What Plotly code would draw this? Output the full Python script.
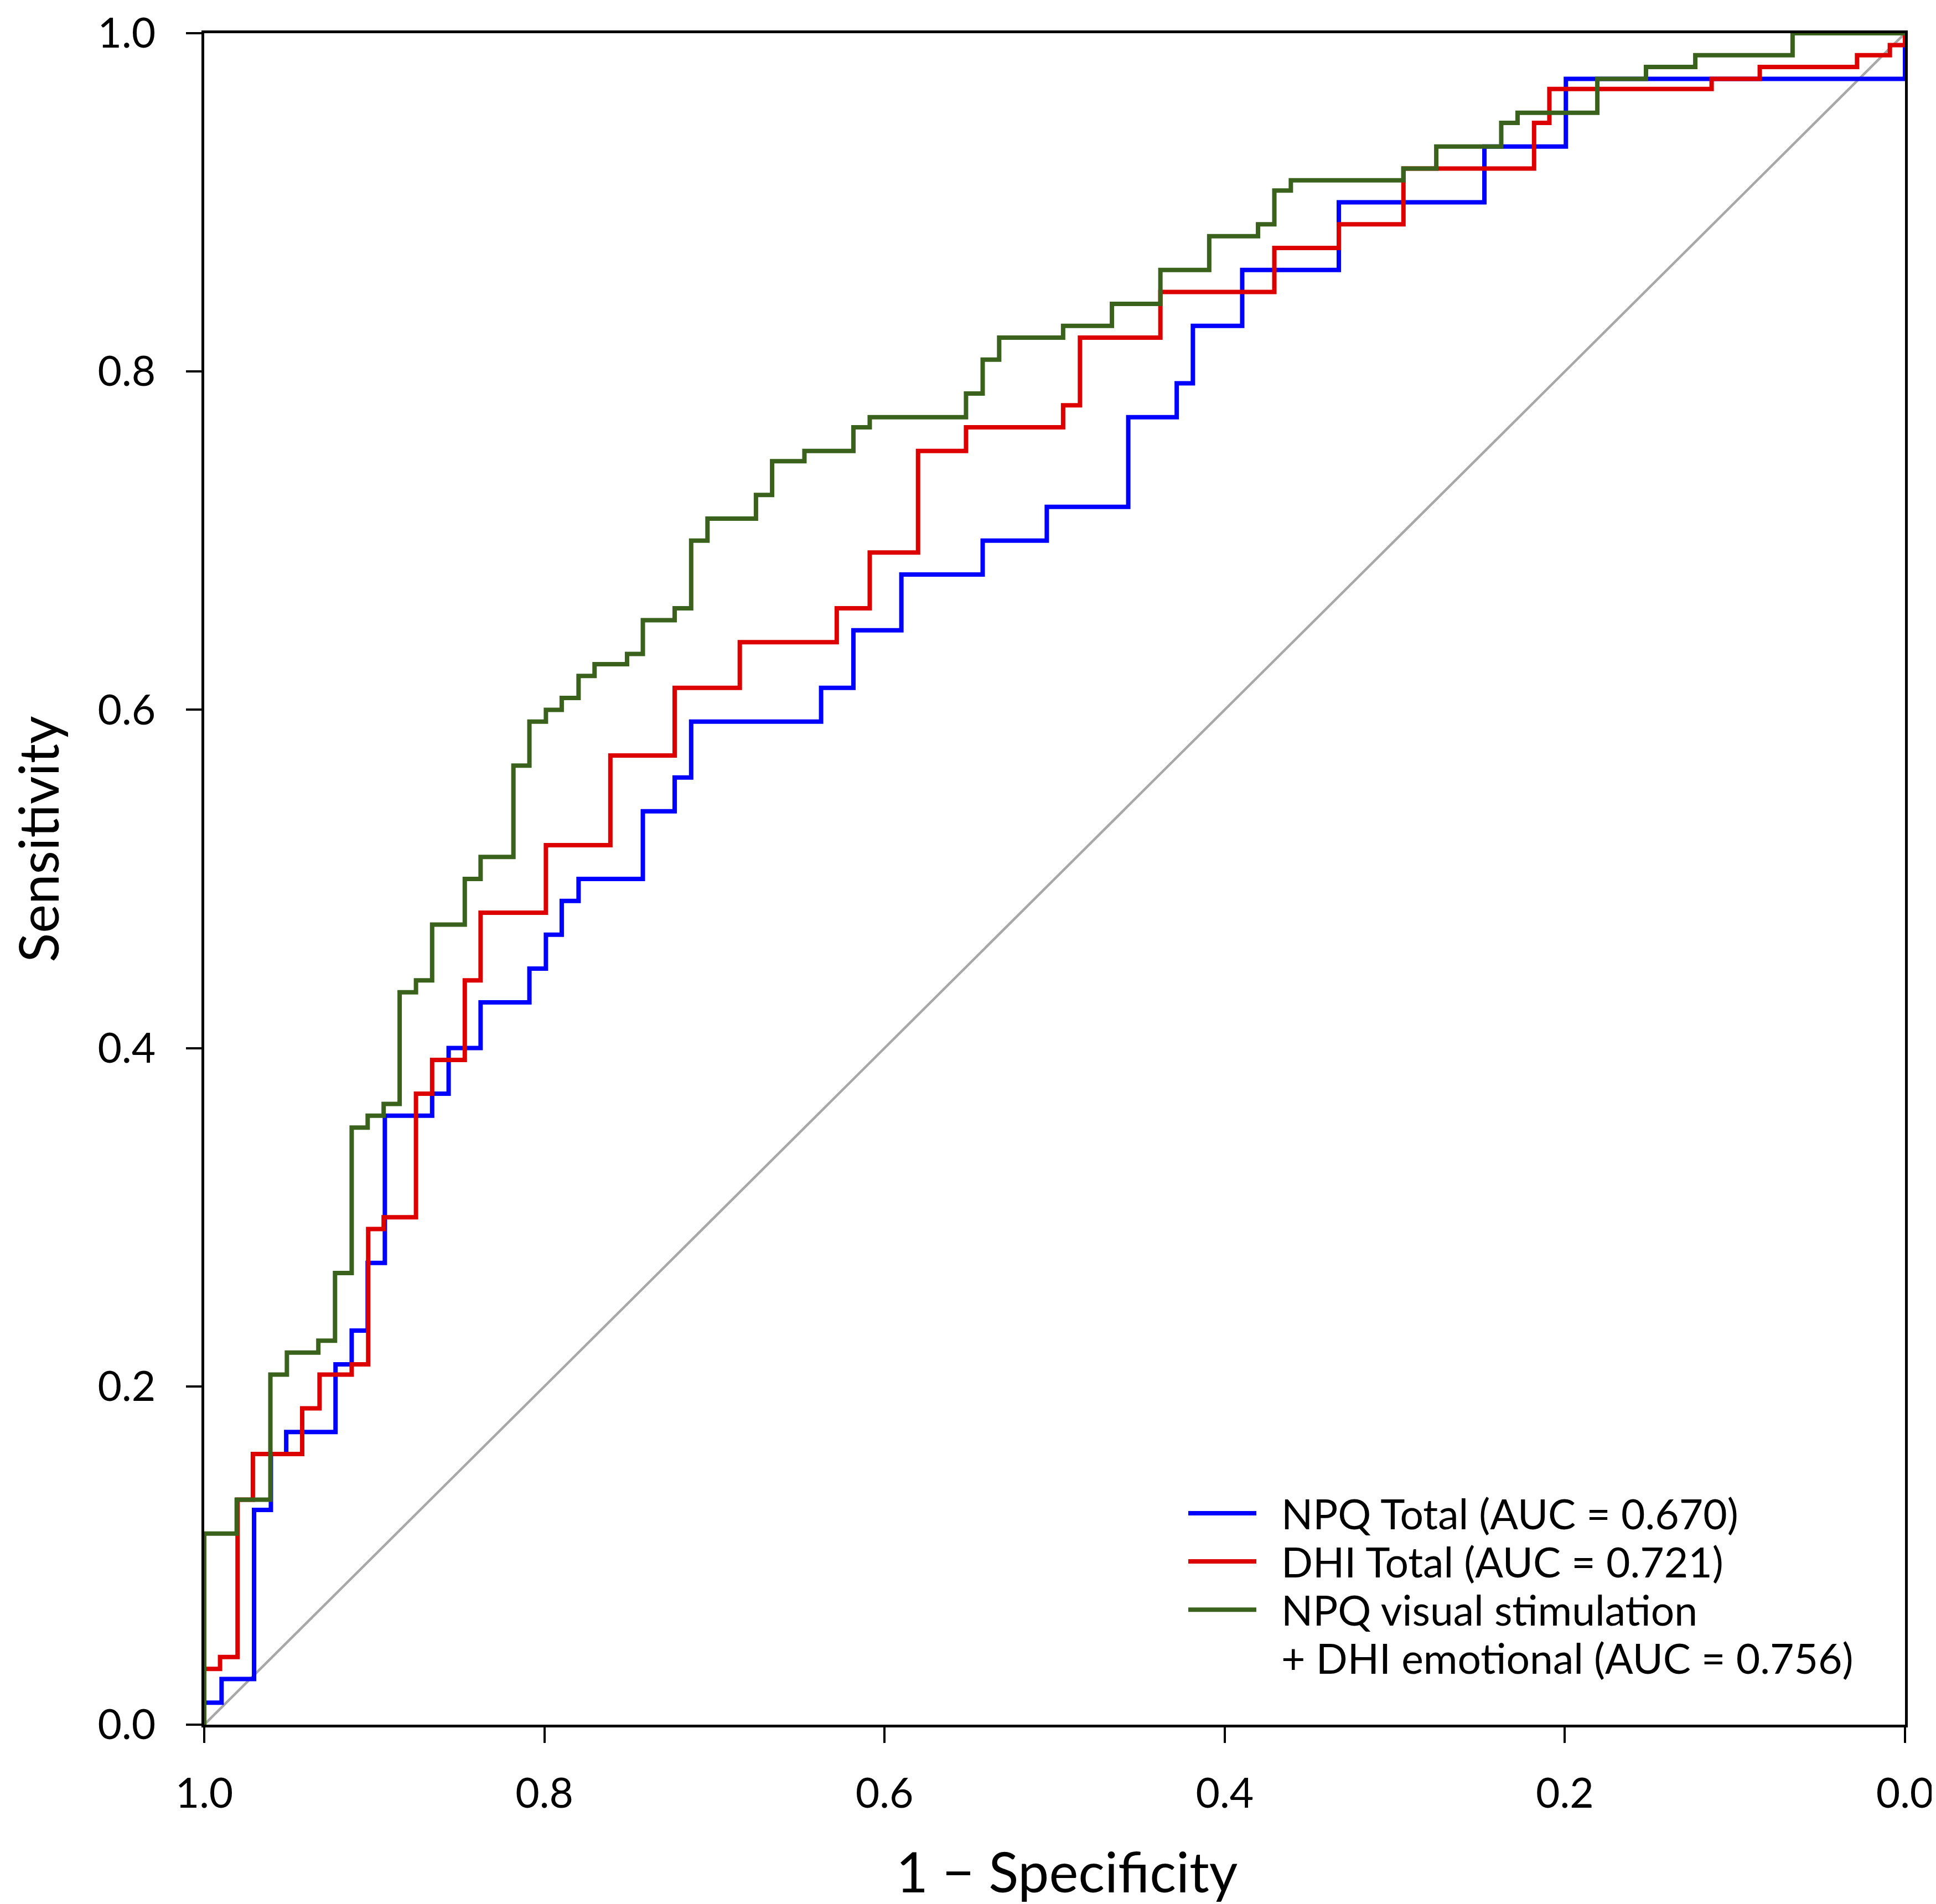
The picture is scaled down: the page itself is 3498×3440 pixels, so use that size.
import plotly.graph_objects as go

# ROC step corners: specificity (x, reversed axis) and sensitivity (y)
npq_spec = [1.0, 1.0, 0.9898, 0.9707, 0.9608, 0.9518, 0.9228, 0.9133, 0.9039, 0.8938,
            0.8660, 0.8563, 0.8375, 0.8088, 0.7991, 0.7898, 0.7799, 0.7421, 0.7234, 0.7137,
            0.6373, 0.6183, 0.5901, 0.5423, 0.5046, 0.4567, 0.4282, 0.4187, 0.3897, 0.3329,
            0.2473, 0.1994, 0.0]
npq_sens = [0.0, 0.013, 0.027, 0.127, 0.160, 0.173, 0.213, 0.233, 0.273, 0.360,
            0.373, 0.400, 0.427, 0.447, 0.467, 0.487, 0.500, 0.540, 0.560, 0.593,
            0.613, 0.647, 0.680, 0.700, 0.720, 0.773, 0.793, 0.827, 0.860, 0.900,
            0.933, 0.973, 1.0]

dhi_spec = [1.0, 1.0, 0.9907, 0.9804, 0.9714, 0.9424, 0.9322, 0.9133, 0.9036, 0.8945,
            0.8755, 0.8660, 0.8468, 0.8375, 0.7991, 0.7612, 0.7234, 0.6851, 0.6281, 0.6087,
            0.5803, 0.5521, 0.4950, 0.4851, 0.4378, 0.3708, 0.3329, 0.2949, 0.2181, 0.2091,
            0.1137, 0.0854, 0.0282, 0.0089, 0.0]
dhi_sens = [0.0, 0.033, 0.040, 0.133, 0.160, 0.187, 0.207, 0.213, 0.293, 0.300,
            0.373, 0.393, 0.440, 0.480, 0.520, 0.573, 0.613, 0.640, 0.660, 0.693,
            0.753, 0.767, 0.780, 0.820, 0.847, 0.873, 0.887, 0.920, 0.947, 0.967,
            0.973, 0.980, 0.987, 0.993, 1.0]

comb_spec = [1.0, 1.0, 0.9809, 0.9611, 0.9514, 0.9329, 0.9231, 0.9133, 0.9039, 0.8945,
             0.8851, 0.8755, 0.8660, 0.8468, 0.8375, 0.8182, 0.8088, 0.7991, 0.7898, 0.7799,
             0.7705, 0.7514, 0.7421, 0.7234, 0.7137, 0.7041, 0.6756, 0.6661, 0.6471, 0.6183,
             0.6087, 0.5521, 0.5423, 0.5326, 0.4950, 0.4663, 0.4378, 0.4091, 0.3804, 0.3708,
             0.3611, 0.2949, 0.2756, 0.2374, 0.2278, 0.1809, 0.1523, 0.1233, 0.0661, 0.0]
comb_sens = [0.0, 0.113, 0.133, 0.207, 0.220, 0.227, 0.267, 0.353, 0.360, 0.367,
             0.433, 0.440, 0.473, 0.500, 0.513, 0.567, 0.593, 0.600, 0.607, 0.620,
             0.627, 0.633, 0.653, 0.660, 0.700, 0.713, 0.727, 0.747, 0.753, 0.767,
             0.773, 0.787, 0.807, 0.820, 0.827, 0.840, 0.860, 0.880, 0.887, 0.907,
             0.913, 0.920, 0.933, 0.947, 0.953, 0.973, 0.980, 0.987, 1.0, 1.0]

chance_spec = [1.0, 0.0]
chance_sens = [0.0, 1.0]

series_names = ["NPQ Total", "DHI Total", "NPQ visual stimulation\n+ DHI emotional"]
auc_values = [0.670, 0.721, 0.756]
series_colors = ["#0000FF", "#DD0000", "#3A621C"]

tick_vals = [0.0, 0.2, 0.4, 0.6, 0.8, 1.0]
tick_text = ["0.0", "0.2", "0.4", "0.6", "0.8", "1.0"]

FONT = "Lato"
W, H = 3498, 3440

fig = go.Figure()

fig.add_trace(go.Scatter(x=chance_spec, y=chance_sens, mode="lines",
                         line=dict(color="#A8A8A8", width=4.5),
                         showlegend=False, hoverinfo="skip"))

curves = [(npq_spec, npq_sens), (dhi_spec, dhi_sens), (comb_spec, comb_sens)]
for (xs, ys), name, auc, col in zip(curves, series_names, auc_values, series_colors):
    fig.add_trace(go.Scatter(x=xs, y=ys, mode="lines",
                             line=dict(color=col, width=8, shape="hv"),
                             name=f"{name.replace(chr(10), ' ')} (AUC = {auc:.3f})",
                             showlegend=False))

# hand-made legend so the sample lines can be as long as in the original
leg_x0, leg_x1, leg_tx = 0.5786, 0.6186, 0.6326
row_y = 0.1250
row_step = 0.0285
for name, auc, col in zip(series_names, auc_values, series_colors):
    lines = name.split("\n")
    lines[-1] = f"{lines[-1]} (AUC = {auc:.3f})"
    fig.add_shape(type="line", xref="paper", yref="paper",
                  x0=leg_x0, x1=leg_x1, y0=row_y, y1=row_y,
                  line=dict(color=col, width=8))
    for txt in lines:
        fig.add_annotation(x=leg_tx, y=row_y, xref="paper", yref="paper",
                           text=txt, showarrow=False, xanchor="left", yanchor="middle",
                           font=dict(family=FONT, size=75, color="black"))
        row_y -= row_step

# axis titles as annotations, placed where the original has them
fig.add_annotation(x=-0.0980, y=0.5236, xref="paper", yref="paper",
                   text="Sensitivity", textangle=-90, showarrow=False,
                   xanchor="center", yanchor="middle",
                   font=dict(family=FONT, size=98, color="black"))
fig.add_annotation(x=0.5073, y=-0.0864, xref="paper", yref="paper",
                   text="1 − Specificity", showarrow=False,
                   xanchor="center", yanchor="middle",
                   font=dict(family=FONT, size=100, color="black"))

axis_common = dict(showgrid=False, zeroline=False, showline=True, linecolor="black",
                   linewidth=4.5, mirror=True, ticks="outside", ticklen=28, tickwidth=4,
                   tickcolor="black", tickvals=tick_vals, ticktext=tick_text,
                   ticklabeloverflow="allow",
                   tickfont=dict(family=FONT, size=75, color="black"), automargin=False)

fig.update_layout(
    width=W, height=H,
    paper_bgcolor="white", plot_bgcolor="white",
    margin=dict(l=361, r=64, t=52, b=332, pad=0),
    showlegend=False,
    xaxis=dict(range=[1.0, 0.0], autorange=False, ticklabelstandoff=27, **axis_common),
    yaxis=dict(range=[0.0, 1.0], autorange=False, ticklabelstandoff=40, **axis_common),
)

fig.write_html("out.html")
